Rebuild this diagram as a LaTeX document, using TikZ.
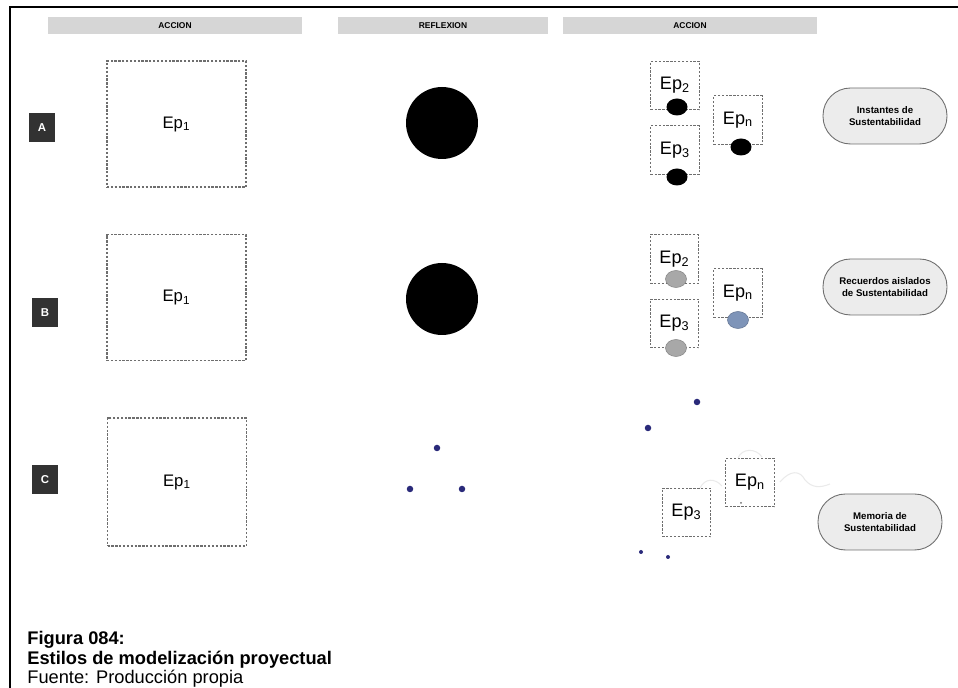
\documentclass[tikz,border=0pt]{standalone}
\usepackage{fontspec}
\setmainfont{Liberation Sans}
\usepackage{tikz}
\usetikzlibrary{shapes.geometric, positioning, calc}
\definecolor{mybar}{RGB}{214,214,214}
\definecolor{mytag}{RGB}{50,50,50}
\definecolor{mydash}{RGB}{110,110,110}
\definecolor{mygrayball}{RGB}{168,168,168}
\definecolor{mybluegray}{RGB}{126,148,184}
\definecolor{mynavy}{RGB}{42,42,122}
\definecolor{mypill}{RGB}{236,236,236}
\definecolor{mypillline}{RGB}{110,110,110}
\definecolor{myfaint}{RGB}{234,234,234}
\tikzset{
  headbar/.style={rectangle, fill=mybar, minimum width=5.08cm, minimum height=0.34cm,
    font=\fontsize{4.8}{5}\selectfont\bfseries, inner sep=0pt},
  tag/.style={rectangle, fill=mytag, text=white, minimum width=0.54cm,
    minimum height=0.58cm, font=\fontsize{6.5}{7}\selectfont\bfseries, inner sep=0pt},
  bigbox/.style={rectangle, draw=mydash, dash pattern=on 1.3pt off 0.9pt, line width=0.7pt,
    minimum width=2.78cm, minimum height=2.52cm, font=\fontsize{9.5}{11}\selectfont},
  smallbox/.style={rectangle, draw=mydash, dash pattern=on 1.3pt off 0.9pt, line width=0.7pt,
    minimum width=0.97cm, minimum height=0.97cm, font=\fontsize{10.3}{12}\selectfont,
    inner sep=0pt},
  ball/.style={ellipse, minimum width=0.42cm, minimum height=0.34cm, inner sep=0pt},
  bigball/.style={circle, fill=black, minimum size=1.44cm, inner sep=0pt},
  seed/.style={circle, fill=mynavy, minimum size=0.13cm, inner sep=0pt},
  pill/.style={rectangle, rounded corners=0.55cm, draw=mypillline, fill=mypill,
    minimum width=2.48cm, minimum height=1.12cm, align=center,
    font=\fontsize{5.5}{7.2}\selectfont\bfseries, line width=0.5pt}
}

\begin{document}
\begin{tikzpicture}[x=0.02cm, y=-0.02cm]
  \useasboundingbox (0,0) rectangle (958,688);

  % Frame
  \draw[line width=1.1pt] (10,688) -- (10,7) -- (958,7);

  % Column headers
  \node[headbar] (hdrone) at (175,26) {ACCION};
  \node[headbar, minimum width=4.2cm] (hdrtwo) at (443,26) {REFLEXION};
  \node[headbar] (hdrthree) at (690,26) {ACCION};

  % Row tags
  \node[tag] (tagA) at (42,128) {A};
  \node[tag] (tagB) at (45,313) {B};
  \node[tag] (tagC) at (45,480) {C};

  % First action
  \node[bigbox] (epA) at (176.5,124) {Ep\textsubscript{1}};
  \node[bigbox] (epB) at (176.5,297.5) {Ep\textsubscript{1}};
  \node[bigbox, minimum height=2.56cm] (epC) at (177,482) {Ep\textsubscript{1}};

  % Reflection
  \node[bigball] (refA) at (442,123) {};
  \node[bigball] (refB) at (442,299) {};
  \node[seed] (refCa) at (437,448) {};
  \node[seed] (refCb) at (410,489) {};
  \node[seed] (refCc) at (462,489) {};

  % Second action, row A
  \node[smallbox] (aTwo) at (675,85.5) {Ep\textsubscript{2}};
  \node[smallbox] (aThree) at (675,150) {Ep\textsubscript{3}};
  \node[smallbox] (aN) at (738,120) {Ep\textsubscript{n}};
  \node[ball, fill=black] (aTwoB) at (677,107) {};
  \node[ball, fill=black] (aThreeB) at (677,177) {};
  \node[ball, fill=black] (aNB) at (741,147) {};

  % Second action, row B
  \node[smallbox] (bTwo) at (674.5,259) {Ep\textsubscript{2}};
  \node[smallbox] (bThree) at (674.5,323.5) {Ep\textsubscript{3}};
  \node[smallbox] (bN) at (738,293) {Ep\textsubscript{n}};
  \node[ball, fill=mygrayball, draw=mygrayball!80!black, line width=0.3pt] (bTwoB) at (676,279) {};
  \node[ball, fill=mygrayball, draw=mygrayball!80!black, line width=0.3pt] (bThreeB) at (676,348) {};
  \node[ball, fill=mybluegray, draw=mybluegray!80!black, line width=0.3pt] (bNB) at (738,320) {};

  % Second action, row C
  \draw[myfaint, line width=0.6pt] (700,488) .. controls (705,478) and (715,478) .. (722,486);
  \draw[myfaint, line width=0.6pt] (738,458) .. controls (742,448) and (756,448) .. (762,457);
  \draw[myfaint, line width=0.6pt] (780,482) .. controls (790,470) and (800,470) .. (805,480)
    .. controls (812,488) and (820,488) .. (830,484);
  \node[smallbox] (cThree) at (686.5,512.5) {Ep\textsubscript{3}};
  \node[smallbox] (cN) at (750,482.5) {Ep\textsubscript{n}};
  \node[seed] (cSa) at (697,402) {};
  \node[seed] (cSb) at (648,428) {};
  \node[seed, minimum size=0.08cm] (cSc) at (641,552) {};
  \node[seed, minimum size=0.08cm] (cSd) at (668,557) {};
  \node[seed, minimum size=0.04cm, fill=mydash] (cSe) at (741,503) {};

  % Outcomes
  \node[pill] (outA) at (885,116) {Instantes de\\Sustentabilidad};
  \node[pill] (outB) at (885,287) {Recuerdos aislados\\de Sustentabilidad};
  \node[pill] (outC) at (880,522) {Memoria de\\Sustentabilidad};

  % Caption
  \node[anchor=north west, align=left, inner sep=0pt,
    font=\fontsize{10.4}{11.1}\selectfont] (caption) at (27,631)
    {\textbf{Figura 084:}\\\textbf{Estilos de modelización proyectual}\\Fuente: Producción propia};
\end{tikzpicture}
\end{document}
